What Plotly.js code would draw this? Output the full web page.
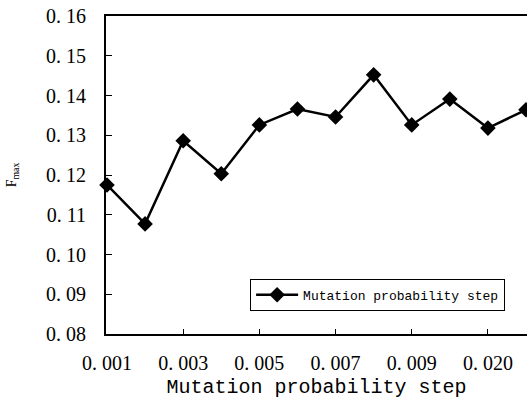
<!DOCTYPE html>
<html>
<head>
<meta charset="utf-8">
<script src="https://cdn.plot.ly/plotly-3.0.1.min.js"></script>
<style>html,body{margin:0;padding:0;background:#fff}#chart{width:527px;height:406px}</style>
</head>
<body>
<div id="chart"></div>
<script>
var categories = ["0.001","0.002","0.003","0.004","0.005","0.006","0.007","0.008","0.009","0.010","0.020","0.030"];
var fmax = [0.1175,0.1077,0.1286,0.1203,0.1326,0.1366,0.1346,0.1452,0.1326,0.1391,0.1318,0.1364];
var xTickCats = ["0.001","0.003","0.005","0.007","0.009","0.020"];
var xTickLabels = ["0. 001","0. 003","0. 005","0. 007","0. 009","0. 020"];
var yTickVals = [0.08,0.09,0.10,0.11,0.12,0.13,0.14,0.15,0.16];
var yTickLabels = ["0. 08","0. 09","0. 10","0. 11","0. 12","0. 13","0. 14","0. 15","0. 16"];
var seriesName = "Mutation probability step";

var trace = {
  x: categories, y: fmax, type: "scatter", mode: "lines+markers",
  name: seriesName, cliponaxis: false,
  line: {color: "#000", width: 2.5},
  marker: {symbol: "diamond", size: 12, color: "#000"}
};
var layout = {
  width: 527, height: 406,
  margin: {l: 106, r: 0, t: 16, b: 72},
  paper_bgcolor: "#fff", plot_bgcolor: "#fff",
  showlegend: true,
  font: {family: "Liberation Serif", color: "#000"},
  xaxis: {
    type: "category", range: [-0.026, 11.026],
    tickmode: "array", tickvals: xTickCats, ticktext: xTickLabels,
    ticks: "inside", ticklen: 5, tickwidth: 1, tickcolor: "#000",
    showline: true, linecolor: "#000", linewidth: 2, mirror: true,
    showgrid: false, zeroline: false,
    tickfont: {family: "Liberation Serif", size: 20},
    ticklabelstandoff: 10,
    title: {text: "Mutation probability step", font: {family: "Liberation Mono", size: 20}, standoff: 6}
  },
  yaxis: {
    range: [0.08, 0.16],
    tickmode: "array", tickvals: yTickVals, ticktext: yTickLabels,
    ticks: "inside", ticklen: 6, tickwidth: 1, tickcolor: "#000",
    showline: true, linecolor: "#000", linewidth: 2, mirror: true,
    showgrid: false, zeroline: false,
    tickfont: {family: "Liberation Serif", size: 20},
    ticklabelstandoff: 14,
    title: {text: "F<sub>max</sub>", font: {family: "Liberation Serif", size: 14}, standoff: 26}
  },
  legend: {
    x: 0.948, y: 0.073, xanchor: "right", yanchor: "bottom",
    bordercolor: "#000", borderwidth: 1, bgcolor: "#fff",
    font: {family: "Liberation Mono", size: 13},
    itemwidth: 42
  }
};
Plotly.newPlot("chart", [trace], layout, {displayModeBar: false, staticPlot: true});
</script>
</body>
</html>
